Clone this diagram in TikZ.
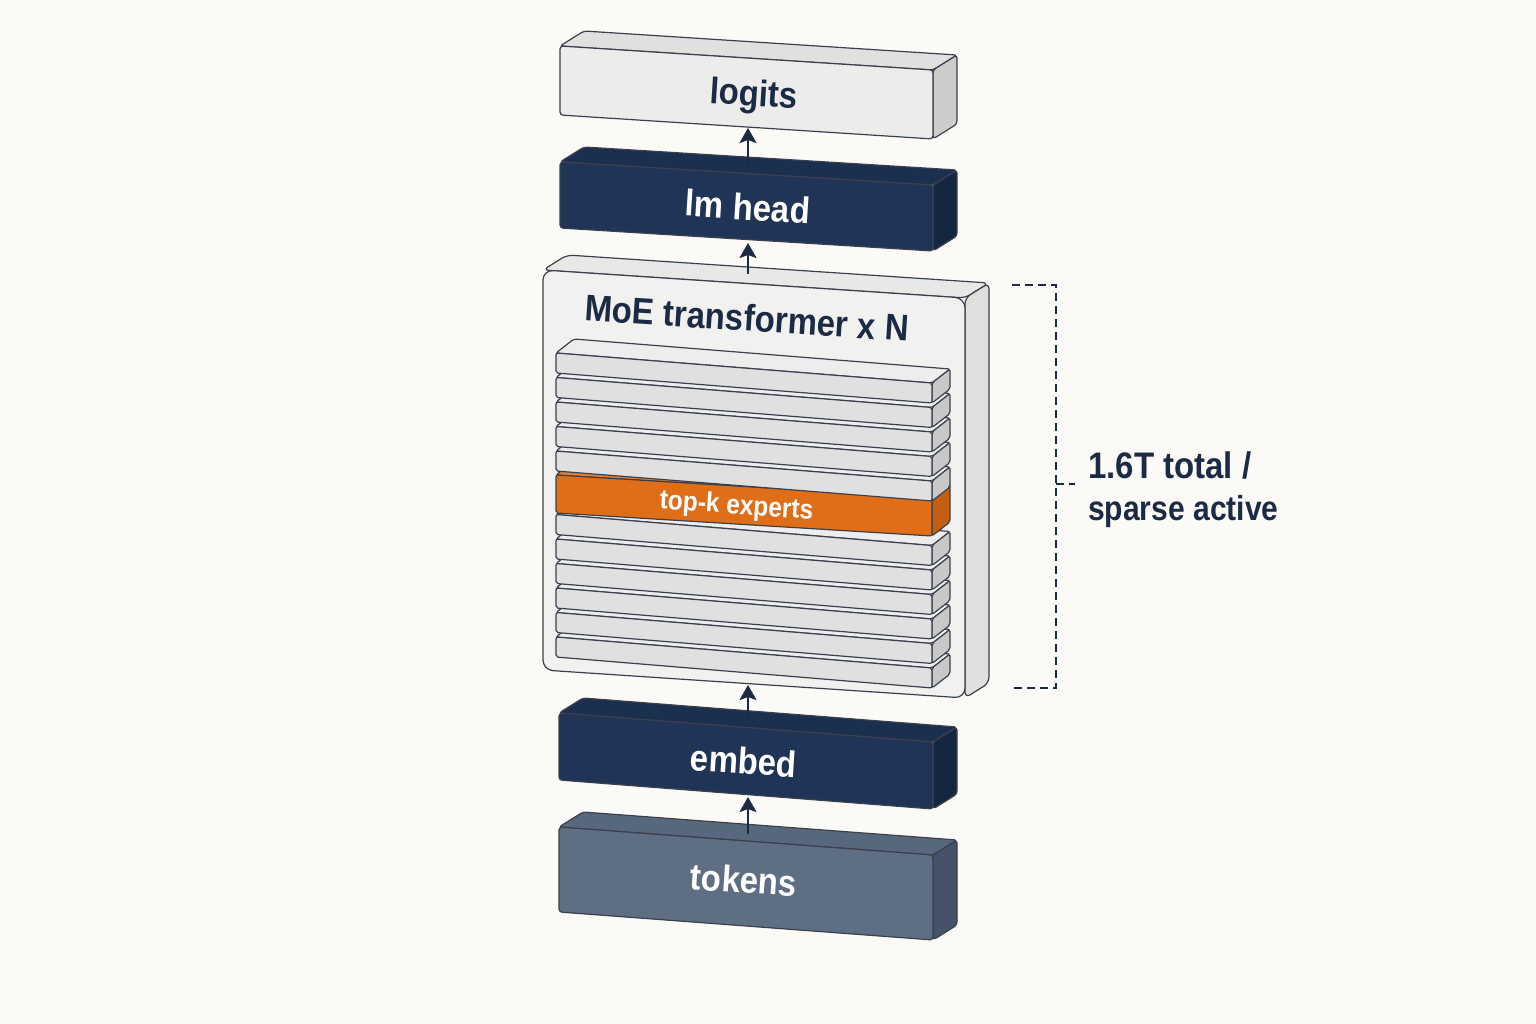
\documentclass[tikz,border=0pt]{standalone}
\usepackage{fontspec}
\usepackage{graphicx}
\setmainfont{Liberation Sans}
\usetikzlibrary{arrows.meta}
\definecolor{bgc}{HTML}{FBFAF6}
\definecolor{ink}{HTML}{1C2B45}
\definecolor{edgec}{HTML}{3A414D}
\definecolor{lgF}{HTML}{ECECEB}
\definecolor{lgT}{HTML}{E0E0DF}
\definecolor{lgR}{HTML}{CCCCCB}
\definecolor{nvF}{HTML}{1F3456}
\definecolor{nvT}{HTML}{1B2F4F}
\definecolor{nvR}{HTML}{152640}
\definecolor{tkF}{HTML}{5F6F83}
\definecolor{tkT}{HTML}{58687C}
\definecolor{tkR}{HTML}{44536A}
\definecolor{ctF}{HTML}{F1F1F0}
\definecolor{ctT}{HTML}{E8E8E7}
\definecolor{ctR}{HTML}{DFDFDE}
\definecolor{slF}{HTML}{E0E0E0}
\definecolor{slT}{HTML}{EDEDED}
\definecolor{slR}{HTML}{C8C8C8}
\definecolor{orF}{HTML}{E06E18}
\definecolor{orT}{HTML}{E67F2E}
\definecolor{orR}{HTML}{C45E10}
\newcommand\stx[1]{\scalebox{1}[1.12]{#1}}
\def\pdX{24}\def\pdY{-15}\def\prc{3}\def\prcs{3}
% #1 name, #2 xl, #3 ytl, #4 xr, #5 ytr, #6 h, #7 front, #8 top, #9 right
\newcommand\prism[9]{%
 \coordinate (#1-ftl) at (#2,#3);
 \coordinate (#1-ftr) at (#4,#5);
 \coordinate (#1-fbr) at (#4,#5+#6);
 \coordinate (#1-fbl) at (#2,#3+#6);
 \coordinate (#1-btl) at (#2+\pdX,#3+\pdY);
 \coordinate (#1-btr) at (#4+\pdX,#5+\pdY);
 \coordinate (#1-bbr) at (#4+\pdX,#5+#6+\pdY);
 \filldraw[face,fill=#8,rounded corners=\prcs] (#1-ftl) -- (#1-btl) -- (#1-btr) -- (#1-ftr) -- cycle;
 \filldraw[face,fill=#9,rounded corners=\prcs] (#1-ftr) -- (#1-btr) -- (#1-bbr) -- (#1-fbr) -- cycle;
 \filldraw[face,fill=#7,rounded corners=\prc] (#1-ftl) -- (#1-ftr) -- (#1-fbr) -- (#1-fbl) -- cycle;
}
\begin{document}
\begin{tikzpicture}[x=1pt,y=-1pt,
  face/.style={draw=edgec,line width=1.2pt,line join=round},
  lbl/.style={font=\bfseries\fontsize{33}{36}\selectfont,text=ink,inner sep=0pt,anchor=base},
  arr/.style={draw=ink,line width=2.6pt,-{Stealth[length=15pt,width=17pt,inset=3pt]}},
  brk/.style={draw=ink,line width=1.8pt,dash pattern=on 8pt off 5pt}]
\fill[bgc] (0,0) rectangle (1536,1024);
\useasboundingbox (0,0) rectangle (1536,1024);

% logits
\prism{lg}{560}{46}{933}{70}{69}{lgF}{lgT}{lgR}
\node[lbl,rotate=-3.7] (logits) at (753,106) {\stx{logits}};

% lm head
\prism{lm}{560}{162}{933}{185}{66}{nvF}{nvT}{nvR}
\node[lbl,rotate=-3.7,text=white] (lmhead) at (747,220) {\stx{lm head}};

% container
\def\prc{10}\def\prcs{6}
\prism{ct}{543}{270}{965}{298}{400}{ctF}{ctT}{ctR}
\def\prc{2}\def\prcs{2}
\def\pdX{18}\def\pdY{-14}
% slabs, bottom to top
\foreach \yy [count=\i] in {637,612.5,588,563.5,539,514.5}{
  \prism{slb\i}{556}{\yy}{932}{\yy+31}{20}{slF}{slT}{slR}
}
\prism{topk}{556}{475}{932}{498}{38}{orF}{orT}{orR}
\foreach \yy [count=\i] in {451,426.5,402,377.5,353}{
  \prism{sla\i}{556}{\yy}{932}{\yy+30}{20}{slF}{slT}{slR}
}
\node[lbl,rotate=-3.8,text=white,font=\bfseries\fontsize{24.5}{28}\selectfont] (topklbl) at (736,514) {\stx{top-k experts}};
\node[lbl,rotate=-3.7] (moe) at (746,331) {\stx{MoE transformer x N}};

% embed
\def\prc{3}\def\prcs{3}\def\pdX{24}\def\pdY{-15}
\prism{em}{559}{713}{933}{742}{67}{nvF}{nvT}{nvR}
\node[lbl,rotate=-3.7,text=white] (embed) at (743,774) {\stx{embed}};

% tokens
\prism{tk}{559}{827}{933}{855}{85}{tkF}{tkT}{tkR}
\node[lbl,rotate=-3.7,text=white] (tokens) at (743,893) {\stx{tokens}};

% connector end points
\coordinate (lg-in) at (748,128);
\coordinate (lm-out) at (748,166);
\coordinate (lm-in) at (748,243);
\coordinate (ct-out) at (748,274);
\coordinate (ct-in) at (748,685);
\coordinate (em-out) at (748,719);
\coordinate (em-in) at (748,797);
\coordinate (tk-out) at (748,834);
\draw[arr] (lm-out) -- (lg-in);
\draw[arr] (ct-out) -- (lm-in);
\draw[arr] (em-out) -- (ct-in);
\draw[arr] (tk-out) -- (em-in);

% bracket
\coordinate (br-t) at (1012,285);
\coordinate (br-b) at (1012,688);
\coordinate (br-m) at (1056,484);
\coordinate (br-tick) at (1075,484);
\draw[brk] (br-t) -| (1056,688) -- (br-b);
\draw[brk] (br-m) -- (br-tick);
\node[lbl,anchor=base west] (tot1) at (1088,478) {\stx{1.6T total /}};
\node[lbl,anchor=base west] (tot2) at (1088,520) {\scalebox{0.91}[1.05]{sparse active}};
\end{tikzpicture}
\end{document}
